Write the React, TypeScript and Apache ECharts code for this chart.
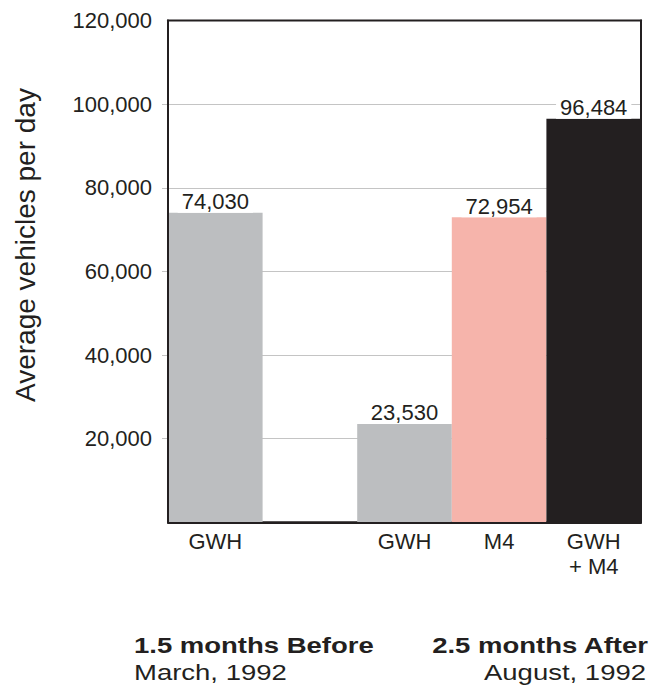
import React, { useEffect, useRef } from "react";
import * as echarts from "echarts";

const categories = ["GWH", "", "GWH", "M4", "GWH\n+ M4"];
const vehicles: (number | null)[] = [74030, null, 23530, 72954, 96484];
const barColors = ["#bcbec0", "#ffffff", "#bcbec0", "#f6b4ab", "#231f20"];
const yLabelValues = [20000, 40000, 60000, 80000, 100000, 120000];
const yTickValues = [20000, 40000, 60000, 80000, 100000];
const yTitle = "Average vehicles per day";
const periodTitles = ["1.5 months Before", "2.5 months After"];
const periodDates = ["March, 1992", "August, 1992"];

const FONT = "'Liberation Sans', Arial, Helvetica, sans-serif";
const INK = "#231f20";

function fmt(v: number): string {
  const s = String(Math.round(v));
  return s.replace(/\B(?=(\d{3})+(?!\d))/g, ",");
}

export default function App() {
  const ref = useRef<HTMLDivElement>(null);
  useEffect(() => {
    if (!ref.current) return;
    const chart = echarts.init(ref.current, null, { renderer: "svg" });
    const grid = { left: 168, top: 20.5, right: 9, bottom: 162.7 };
    const yBase = { type: "value", min: 0, max: 120000, interval: 20000 };
    chart.setOption({
      animation: false,
      backgroundColor: "#ffffff",
      grid: {
        ...grid,
        show: true,
        borderColor: INK,
        borderWidth: 2,
        backgroundColor: "transparent",
      },
      xAxis: [
        {
          type: "category",
          data: categories,
          z: 5,
          axisLine: { show: true, lineStyle: { color: INK, width: 2 } },
          axisTick: { show: false },
          axisLabel: {
            color: INK,
            fontFamily: FONT,
            fontSize: 22,
            lineHeight: 25,
            margin: 7,
            interval: 0,
          },
        },
      ],
      yAxis: [
        {
          ...yBase,
          axisLine: { show: false },
          axisTick: {
            show: true,
            length: 6,
            customValues: yTickValues,
            lineStyle: { color: "#c4c4c4", width: 1 },
          },
          splitLine: { show: true, lineStyle: { color: "#c4c4c4", width: 1 } },
          axisLabel: {
            customValues: yLabelValues,
            color: INK,
            fontFamily: FONT,
            fontSize: 22,
            margin: 16,
            formatter: (v: number) => fmt(v),
          },
        },
        {
          ...yBase,
          position: "left",
          z: 5,
          axisLine: { show: true, lineStyle: { color: INK, width: 2 } },
          axisTick: { show: false },
          axisLabel: { show: false },
          splitLine: { show: false },
        },
        {
          ...yBase,
          position: "right",
          z: 5,
          axisLine: { show: true, lineStyle: { color: INK, width: 2 } },
          axisTick: { show: false },
          axisLabel: { show: false },
          splitLine: { show: false },
        },
      ],
      series: [
        {
          type: "bar",
          barWidth: "100%",
          barGap: "0%",
          data: vehicles.map((v, i) => ({
            value: v,
            itemStyle: { color: barColors[i] },
          })),
          label: {
            show: true,
            position: "top",
            distance: 0,
            color: INK,
            fontFamily: FONT,
            fontSize: 22,
            backgroundColor: "#ffffff",
            padding: [0, 4, 0, 4],
            formatter: (p: any) => (p.value == null ? "" : fmt(p.value)),
          },
        },
      ],
      graphic: [
        {
          type: "text",
          x: 25,
          y: 245,
          rotation: Math.PI / 2,
          style: {
            text: yTitle,
            fontFamily: FONT,
            fontSize: 28,
            fill: INK,
            align: "center",
            verticalAlign: "middle",
          },
        },
        {
          type: "text",
          x: 134,
          y: 645,
          scaleX: 1.25,
          style: {
            text: periodTitles[0],
            fontFamily: FONT,
            fontSize: 22,
            fontWeight: "bold",
            fill: INK,
            align: "left",
            verticalAlign: "middle",
          },
        },
        {
          type: "text",
          x: 134,
          y: 672,
          scaleX: 1.25,
          style: {
            text: periodDates[0],
            fontFamily: FONT,
            fontSize: 22,
            fill: INK,
            align: "left",
            verticalAlign: "middle",
          },
        },
        {
          type: "text",
          x: 648,
          y: 645,
          scaleX: 1.25,
          style: {
            text: periodTitles[1],
            fontFamily: FONT,
            fontSize: 22,
            fontWeight: "bold",
            fill: INK,
            align: "right",
            verticalAlign: "middle",
          },
        },
        {
          type: "text",
          x: 646,
          y: 672,
          scaleX: 1.25,
          style: {
            text: periodDates[1],
            fontFamily: FONT,
            fontSize: 22,
            fill: INK,
            align: "right",
            verticalAlign: "middle",
          },
        },
      ],
    });
    return () => chart.dispose();
  }, []);
  return (
    <div
      ref={ref}
      style={{ position: "absolute", left: 0, top: 0, width: 650, height: 685 }}
    />
  );
}
